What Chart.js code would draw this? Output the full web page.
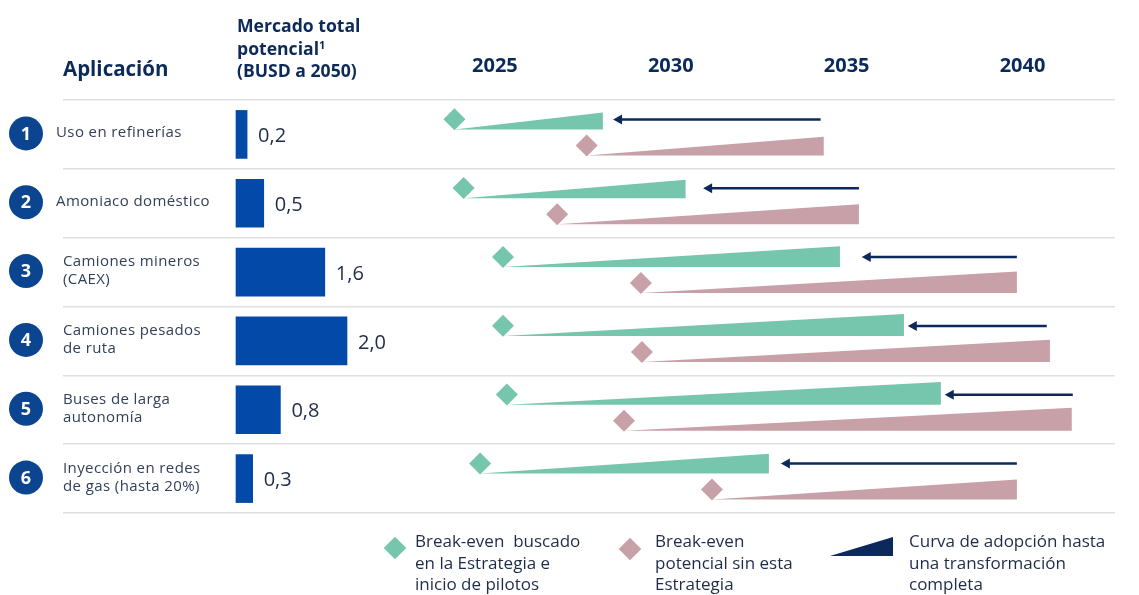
<!DOCTYPE html>
<html lang="es">
<head>
<meta charset="utf-8">
<title>Aplicaciones del hidrógeno verde</title>
<script src="https://cdn.jsdelivr.net/npm/chart.js@4.4.1/dist/chart.umd.min.js"></script>
<style>
  body { margin: 0; background: #fff; font-family: "Open Sans", sans-serif; }
  #wrap { position: relative; width: 1139px; height: 595px; overflow: hidden; }
  #chart { position: absolute; left: 0; top: 0; }
  .head { position: absolute; font-weight: 700; color: #0b2a5b; }
  .head sup { font-size: 11px; vertical-align: 6px; line-height: 0; }
  .leg { position: absolute; font-size: 17px; line-height: 21.5px; color: #1e2c48; }
  .dia { position: absolute; width: 16px; height: 16px; transform: rotate(45deg); }
  .wedge { position: absolute; background: #0b2a5b; clip-path: polygon(0 100%, 100% 0, 100% 100%); }
</style>
</head>
<body>
<div id="wrap">
  <canvas id="chart" width="1139" height="595"></canvas>

  <div class="head" style="left:63px; top:56px; font-size:20.5px; line-height:24px;">Aplicación</div>
  <div class="head" style="left:237px; top:14px; font-size:17.6px; line-height:22.5px;">Mercado total<br>potencial<sup>1</sup><br>(BUSD a 2050)</div>

  <div class="dia" style="left:387px; top:540px; background:#76c5ad;"></div>
  <div class="leg" style="left:415px; top:530px;">Break-even&nbsp; buscado<br>en la Estrategia e<br>inicio de pilotos</div>
  <div class="dia" style="left:622px; top:541px; background:#c8a1a8;"></div>
  <div class="leg" style="left:655px; top:530px;">Break-even<br>potencial sin esta<br>Estrategia</div>
  <div class="wedge" style="left:830px; top:537px; width:63px; height:19px;"></div>
  <div class="leg" style="left:909px; top:530px;">Curva de adopción hasta<br>una transformación<br>completa</div>
</div>

<script>
// Aplicaciones (filas)
const appNames = [
  ['Uso en refinerías'],
  ['Amoniaco doméstico'],
  ['Camiones mineros', '(CAEX)'],
  ['Camiones pesados', 'de ruta'],
  ['Buses de larga', 'autonomía'],
  ['Inyección en redes', 'de gas (hasta 20%)']
];

// Mercado total potencial (BUSD a 2050)
const marketBusd = [0.2, 0.5, 1.6, 2.0, 0.8, 0.3];

// Eje de tiempo
const yearTicks = [2025, 2030, 2035, 2040];

// Break-even buscado en la Estrategia y fin de la curva de adopción
const breakEvenTarget = [2023.85, 2024.11, 2025.23, 2025.23, 2025.34, 2024.58];
const targetAdoptionEnd = [2028.07, 2030.42, 2034.81, 2036.63, 2037.68, 2032.79];

// Break-even potencial sin la Estrategia y fin de su curva de adopción
const breakEvenNoStrategy = [2027.61, 2026.77, 2029.15, 2029.18, 2028.67, 2031.17];
const noStrategyAdoptionEnd = [2034.35, 2035.35, 2039.84, 2040.78, 2041.40, 2039.84];

// Flechas de adelanto (desde / hasta)
const shiftFrom = [2034.26, 2035.35, 2039.84, 2040.69, 2041.43, 2039.84];
const shiftTo = [2028.36, 2030.92, 2035.43, 2036.74, 2037.79, 2033.13];

const NAVY = '#0b2a5b';
const BAR_BLUE = '#0349a8';
const CIRCLE_BLUE = '#0b448f';
const GREEN = '#76c5ad';
const PINK = '#c8a1a8';

function drawWedge(ctx, xs, xe, yb, color) {
  const h = 14 + 0.02 * (xe - xs);
  ctx.fillStyle = color;
  ctx.beginPath();
  ctx.moveTo(xs, yb);
  ctx.lineTo(xe, yb);
  ctx.lineTo(xe, yb - h);
  ctx.closePath();
  ctx.fill();
}

function drawArrow(ctx, xFrom, xTo, y) {
  const head = 9;
  ctx.strokeStyle = NAVY;
  ctx.fillStyle = NAVY;
  ctx.lineWidth = 2.5;
  ctx.beginPath();
  ctx.moveTo(xFrom, y);
  ctx.lineTo(xTo + head - 1, y);
  ctx.stroke();
  ctx.beginPath();
  ctx.moveTo(xTo, y);
  ctx.lineTo(xTo + head, y - 5);
  ctx.lineTo(xTo + head, y + 5);
  ctx.closePath();
  ctx.fill();
}

const rowDecor = {
  id: 'rowDecor',
  beforeDatasetsDraw(chart) {
    const { ctx, scales: { x, yl } } = chart;
    ctx.save();
    appNames.forEach((_, i) => {
      const yc = yl.getPixelForValue(i);
      drawWedge(ctx, x.getPixelForValue(breakEvenTarget[i]), x.getPixelForValue(targetAdoptionEnd[i]), yc - 5, GREEN);
      drawWedge(ctx, x.getPixelForValue(breakEvenNoStrategy[i]), x.getPixelForValue(noStrategyAdoptionEnd[i]), yc + 21, PINK);
      drawArrow(ctx, x.getPixelForValue(shiftFrom[i]), x.getPixelForValue(shiftTo[i]), yc - 15);
    });
    ctx.restore();
  },
  afterDatasetsDraw(chart) {
    const { ctx, scales: { yl } } = chart;
    const bars = chart.getDatasetMeta(0).data;
    ctx.save();
    appNames.forEach((lines, i) => {
      const yc = yl.getPixelForValue(i);

      // numbered circle
      ctx.fillStyle = CIRCLE_BLUE;
      ctx.beginPath();
      ctx.arc(26, yc - 1, 17, 0, Math.PI * 2);
      ctx.fill();
      ctx.fillStyle = '#fff';
      ctx.font = 'bold 18px "Open Sans"';
      ctx.textAlign = 'center';
      ctx.textBaseline = 'middle';
      ctx.fillText(String(i + 1), 26, yc);

      // application name
      ctx.fillStyle = '#33405a';
      ctx.font = '15px "Open Sans"';
      ctx.textAlign = 'left';
      ctx.letterSpacing = '0.4px';
      const x0 = lines.length > 1 ? 63 : 56;
      const y0 = yc - 2 - (lines.length - 1) * 8;
      lines.forEach((t, k) => ctx.fillText(t, x0, y0 + k * 18));
      ctx.letterSpacing = '0px';

      // value label
      ctx.fillStyle = '#1f2b47';
      ctx.font = '20px "Open Sans"';
      ctx.fillText(marketBusd[i].toFixed(1).replace('.', ','), bars[i].x + 11, yc + 2);
    });
    ctx.restore();
  }
};

new Chart(document.getElementById('chart'), {
  type: 'bar',
  data: {
    labels: appNames,
    datasets: [
      {
        type: 'bar',
        label: 'Mercado total potencial (BUSD a 2050)',
        data: marketBusd,
        indexAxis: 'y',
        xAxisID: 'xb',
        yAxisID: 'y',
        backgroundColor: BAR_BLUE,
        grouped: false,
        barThickness: 48,
        maxBarThickness: 48
      },
      {
        type: 'scatter',
        label: 'Break-even buscado en la Estrategia e inicio de pilotos',
        data: breakEvenTarget.map((v, i) => ({ x: v, y: i - 0.22 })),
        xAxisID: 'x',
        yAxisID: 'yl',
        pointStyle: 'rectRot',
        pointRadius: 11,
        backgroundColor: GREEN,
        borderWidth: 0
      },
      {
        type: 'scatter',
        label: 'Break-even potencial sin esta Estrategia',
        data: breakEvenNoStrategy.map((v, i) => ({ x: v, y: i + 0.16 })),
        xAxisID: 'x',
        yAxisID: 'yl',
        pointStyle: 'rectRot',
        pointRadius: 11,
        backgroundColor: PINK,
        borderWidth: 0
      }
    ]
  },
  options: {
    responsive: false,
    animation: false,
    layout: { padding: { left: 63, right: 24, top: 32, bottom: 82 } },
    plugins: { legend: { display: false }, tooltip: { enabled: false } },
    scales: {
      x: {
        type: 'linear',
        position: 'top',
        offset: false,
        min: 2012.72,
        max: 2042.63,
        afterBuildTicks: (axis) => { axis.ticks = yearTicks.map(v => ({ value: v })); },
        grid: { display: false, drawTicks: false, offset: false },
        border: { display: false },
        ticks: {
          padding: 22,
          color: NAVY,
          font: { family: 'Open Sans', size: 20, weight: 'bold' },
          callback: (v) => String(v)
        }
      },
      xb: { type: 'linear', display: false, offset: false, min: -3.117, max: 15.838 },
      y: {
        type: 'category',
        offset: true,
        grid: { offset: true, color: '#dfdfdf', lineWidth: 1.5, drawTicks: false },
        border: { display: false },
        ticks: { display: false }
      },
      yl: { type: 'linear', display: false, offset: false, min: -0.5, max: 5.5, reverse: true }
    }
  },
  plugins: [rowDecor]
});
</script>
</body>
</html>
